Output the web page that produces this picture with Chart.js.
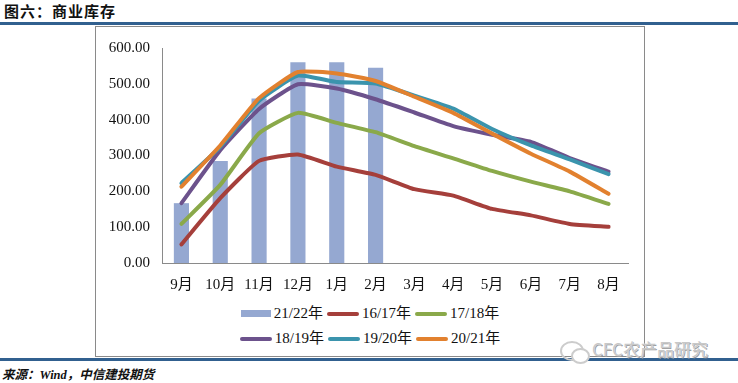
<!DOCTYPE html>
<html><head><meta charset="utf-8">
<script src="https://cdn.jsdelivr.net/npm/chart.js@4/dist/chart.umd.min.js"></script>
<style>
html,body{margin:0;padding:0;background:#fff;width:738px;height:383px;overflow:hidden;position:relative;}
#title{position:absolute;left:4px;top:2px;font:bold 15px/18px "Noto Sans CJK SC",sans-serif;color:#111;letter-spacing:1px;}
.rule{position:absolute;left:0;width:738px;height:3px;background:#31608f;}
#frame{position:absolute;left:95px;top:26px;width:548px;height:329px;border:1px solid #8a8a8a;}
#c{position:absolute;left:96px;top:27px;}
#legend{position:absolute;left:96px;width:548px;top:301px;font:15px/25px "Liberation Serif","Noto Sans CJK SC",serif;color:#111;}
.lrow{display:flex;justify-content:center;height:25px;align-items:center;}
.litem{display:flex;align-items:center;margin:0 2px;}
.lmark{display:inline-block;margin-right:3px;}
#wm{position:absolute;left:592px;top:339px;font:17px/20px "Noto Sans CJK SC",sans-serif;color:#c8c8c8;text-shadow:0 0 1px #fff,1px 1px 0 #999;}
#icon{position:absolute;left:560px;top:341px;width:20px;height:16px;border:2px solid #ccc;border-radius:50%;}
#icon2{position:absolute;left:571px;top:348px;width:15px;height:12px;border:2px solid #ccc;border-radius:50%;background:#fff;}
#src{position:absolute;left:2px;top:367px;font:italic bold 12.5px/16px "Liberation Serif","Noto Sans CJK SC",serif;color:#111;}
</style></head>
<body>
<div id="title">图六：商业库存</div>
<div class="rule" style="top:22px"></div>
<div id="frame"></div>
<canvas id="c" width="548" height="272"></canvas>
<div id="legend"></div>
<div class="rule" style="top:358px"></div>
<div id="icon"></div><div id="icon2"></div>
<div id="wm">CFC农产品研究</div>
<div id="src">来源：Wind，中信建投期货</div>
<script>
const months = ["9月","10月","11月","12月","1月","2月","3月","4月","5月","6月","7月","8月"];
const s2122 = [167, 285, 459, 560, 560, 545, null, null, null, null, null, null];
const s1617 = [52, 181, 285, 303, 269, 246, 206, 188, 151, 133, 109, 101];
const s1718 = [109, 218, 362, 419, 391, 365, 326, 292, 257, 227, 200, 165];
const s1819 = [167, 315, 430, 499, 487, 457, 420, 382, 358, 338, 293, 255];
const s1920 = [223, 324, 453, 523, 505, 501, 467, 431, 374, 328, 289, 248];
const s2021 = [213, 328, 460, 533, 529, 508, 464, 419, 361, 305, 255, 193];
const yTicks = [0, 100, 200, 300, 400, 500, 600];

const serif = '"Liberation Serif","Noto Sans CJK SC",serif';
function line(label, data, color, order){
  return {type:'line', label, data, borderColor:color, backgroundColor:color, borderWidth:4,
    pointRadius:0, tension:0.15, borderCapStyle:'round', borderJoinStyle:'round', order, fill:false};
}
const htmlLegend = {
  id:'htmlLegend',
  afterUpdate(chart){
    const el = document.getElementById('legend');
    el.innerHTML = '';
    const ds = chart.data.datasets;
    const rows = [ds.slice(0,3), ds.slice(3,6)];
    rows.forEach(r=>{
      const row = document.createElement('div'); row.className='lrow';
      r.forEach(d=>{
        const it = document.createElement('div'); it.className='litem';
        const m = document.createElement('span'); m.className='lmark';
        if (d.type==='bar'){ m.style.cssText='width:30px;height:7px;background:'+d.backgroundColor+';margin-right:3px;display:inline-block;'; }
        else { m.style.cssText='width:32px;height:4px;border-radius:2px;background:'+d.borderColor+';margin-right:3px;display:inline-block;'; }
        const t = document.createElement('span'); t.textContent = d.label;
        it.appendChild(m); it.appendChild(t); row.appendChild(it);
      });
      el.appendChild(row);
    });
  }
};
new Chart(document.getElementById('c'), {
  data:{
    labels: months,
    datasets:[
      {type:'bar', label:'21/22年', data:s2122, backgroundColor:'#95a8d1', barPercentage:0.39, categoryPercentage:1, order:6},
      line('16/17年', s1617, '#a53f3b', 5),
      line('17/18年', s1718, '#8aa94a', 4),
      line('18/19年', s1819, '#6c528c', 3),
      line('19/20年', s1920, '#3b94ad', 2),
      line('20/21年', s2021, '#e2812f', 1)
    ]
  },
  options:{
    responsive:false, animation:false, devicePixelRatio:1,
    layout:{padding:{left:0, top:18, right:16, bottom:0}},
    plugins:{legend:{display:false}, tooltip:{enabled:false}},
    scales:{
      x:{
        grid:{display:false, drawTicks:false},
        border:{display:true, color:'#8a8a8a', width:1},
        ticks:{color:'#111', font:{family:serif, size:15}, padding:13, maxRotation:0, autoSkip:false},
        afterFit(s){ s.height = 36; }
      },
      y:{
        min:0, max:600,
        afterBuildTicks(s){ s.ticks = yTicks.map(v=>({value:v})); },
        grid:{display:false, drawTicks:false},
        border:{display:true, color:'#8a8a8a', width:1},
        ticks:{color:'#111', font:{family:serif, size:15}, padding:12, callback:v=>Number(v).toFixed(2)},
        afterFit(s){ s.width = 66; }
      }
    }
  },
  plugins:[htmlLegend]
});
</script>
</body></html>
